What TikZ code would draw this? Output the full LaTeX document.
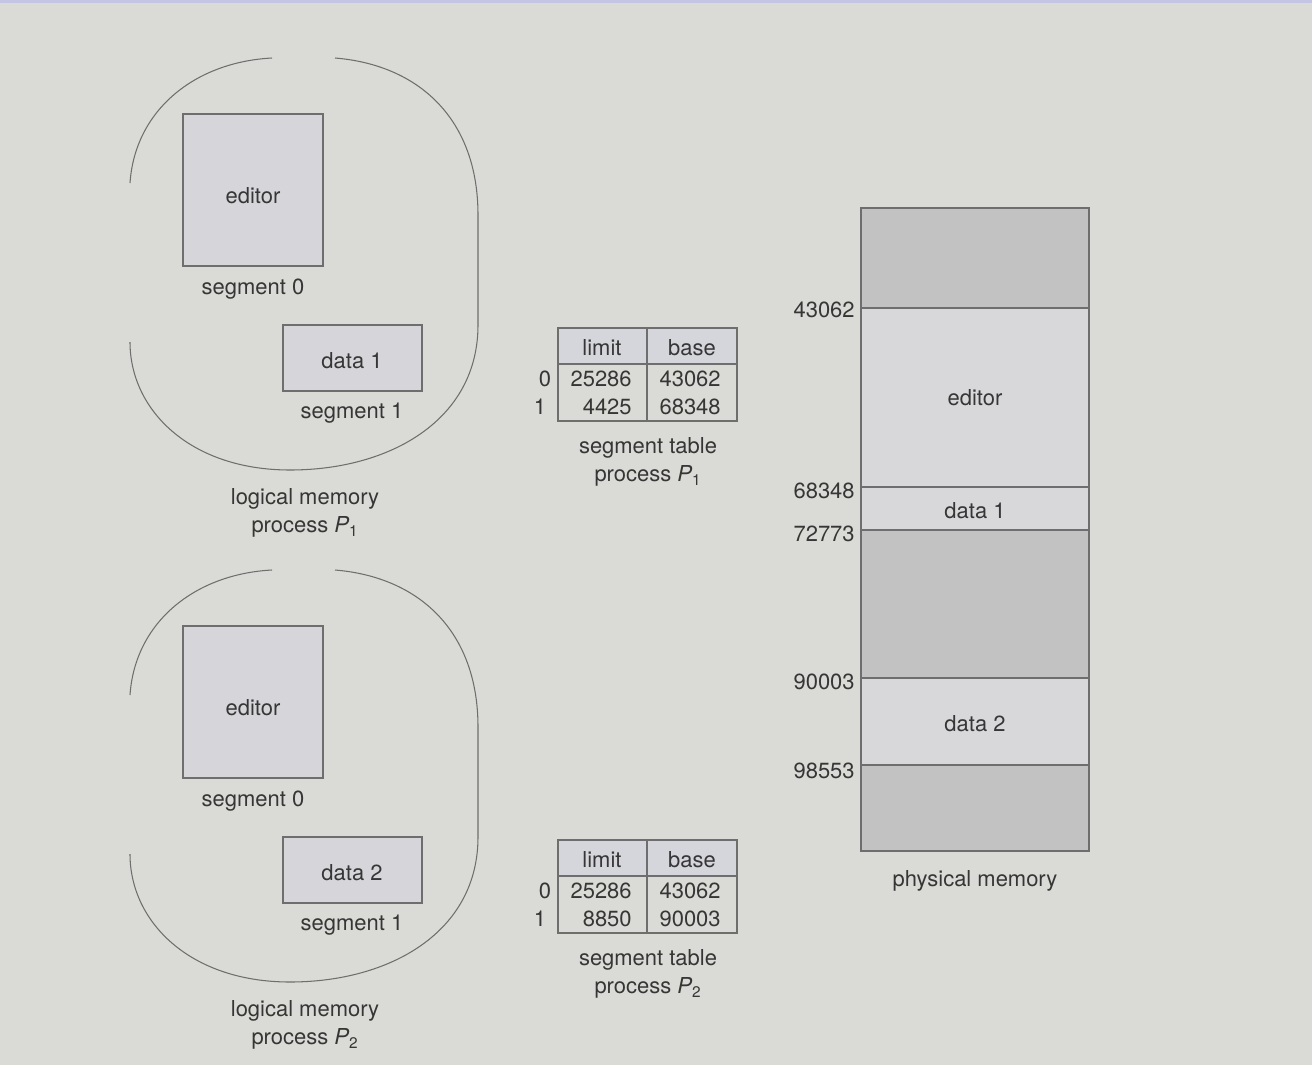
\documentclass[tikz,border=0pt]{standalone}
\usepackage{fontspec}
\setmainfont{TeX Gyre Heros}
\definecolor{bg}{HTML}{DADBD6}
\definecolor{topbar}{HTML}{C4C4E4}
\definecolor{lineg}{HTML}{6E6E6E}
\definecolor{boxfill}{HTML}{D6D5DA}
\definecolor{darkseg}{HTML}{C1C2C1}
\definecolor{lightseg}{HTML}{D8D8DB}
\definecolor{hdrfill}{HTML}{D5D5DC}
\definecolor{txt}{HTML}{363636}
\tikzset{
  lbl/.style={text=txt, font=\fontsize{12.5}{15}\selectfont, inner sep=0pt, yshift=-0.04cm},
  segbox/.style={draw=lineg, fill=boxfill, line width=1pt, inner sep=0pt},
  blob/.style={draw=lineg, line width=0.6pt},
  tbl/.style={draw=lineg, line width=1pt},
  mem/.style={draw=lineg, line width=1pt},
}
\newcommand{\procname}[1]{process {\itshape P}\textsubscript{#1}}
\begin{document}
\begin{tikzpicture}[x=0.02cm,y=-0.02cm]
% background
\fill[bg] (0,0) rectangle (1312,1065);
\fill[topbar] (0,0) rectangle (1312,3);
\useasboundingbox (0,0) rectangle (1312,1065);

% ---------- logical memory blobs ----------
\foreach \dy/\dn/\k in {0/data 1/1, 512/data 2/2}{
  \begin{scope}[yshift=-\dy*0.02cm]
    \draw[blob] (130,183) .. controls (135,110) and (195,62) .. (272,58);
    \draw[blob] (335,58) .. controls (420,65) and (478,120) .. (478,215) -- (478,325)
      .. controls (478,420) and (390,470) .. (290,470)
      .. controls (190,470) and (130,410) .. (130,342);
    \node[segbox, minimum width=2.8cm, minimum height=3.04cm] (ed\k) at (253,190) {};
    \node[lbl] (edt\k) at (253,194) {editor};
    \node[lbl] (sz\k) at (253,287) {segment 0};
    \node[segbox, minimum width=2.78cm, minimum height=1.32cm] (dt\k) at (352.5,358) {};
    \node[lbl] (dtt\k) at (352,359) {\dn};
    \node[lbl] (so\k) at (352,411) {segment 1};
    \node[lbl] (lm\k) at (305,497) {logical memory};
    \node[lbl] (lp\k) at (305,525) {\procname{\k}};
  \end{scope}
}

% ---------- segment tables ----------
\foreach \dy/\la/\ba/\lb/\bb/\k in {0/25286/43062/4425/68348/1, 512/25286/43062/8850/90003/2}{
  \begin{scope}[yshift=-\dy*0.02cm]
    \fill[hdrfill] (558,328) rectangle (737,364);
    \draw[tbl] (558,328) rectangle (737,421);
    \draw[tbl] (558,364) -- (737,364);
    \draw[tbl] (647,328) -- (647,421);
    \node[lbl] (hl\k) at (602,346) {limit};
    \node[lbl] (hb\k) at (692,346) {base};
    \node[lbl] (r0\k) at (545,377) {0};
    \node[lbl] (r1\k) at (540,405) {1};
    \node[lbl, anchor=east] (l0\k) at (632,377) {\la};
    \node[lbl, anchor=east] (l1\k) at (632,405) {\lb};
    \node[lbl, anchor=east] (b0\k) at (721,377) {\ba};
    \node[lbl, anchor=east] (b1\k) at (721,405) {\bb};
    \node[lbl] (st\k) at (648,446) {segment table};
    \node[lbl] (sp\k) at (648,474) {\procname{\k}};
  \end{scope}
}

% ---------- physical memory ----------
\fill[darkseg] (861,208) rectangle (1089,308);
\fill[lightseg] (861,308) rectangle (1089,487);
\fill[lightseg] (861,487) rectangle (1089,530);
\fill[darkseg] (861,530) rectangle (1089,678);
\fill[lightseg] (861,678) rectangle (1089,765);
\fill[darkseg] (861,765) rectangle (1089,851);
\draw[mem] (861,208) rectangle (1089,851);
\foreach \yy in {308,487,530,678,765} \draw[mem] (861,\yy) -- (1089,\yy);
\node[lbl] (pe) at (975,396) {editor};
\node[lbl] (pd1) at (975,509) {data 1};
\node[lbl] (pd2) at (975,722) {data 2};
\node[lbl] (pm) at (975,879) {physical memory};
\node[lbl, anchor=east] (a1) at (855,308) {43062};
\node[lbl, anchor=east] (a2) at (855,489) {68348};
\node[lbl, anchor=east] (a3) at (855,532) {72773};
\node[lbl, anchor=east] (a4) at (855,680) {90003};
\node[lbl, anchor=east] (a5) at (855,769) {98553};
\end{tikzpicture}
\end{document}
